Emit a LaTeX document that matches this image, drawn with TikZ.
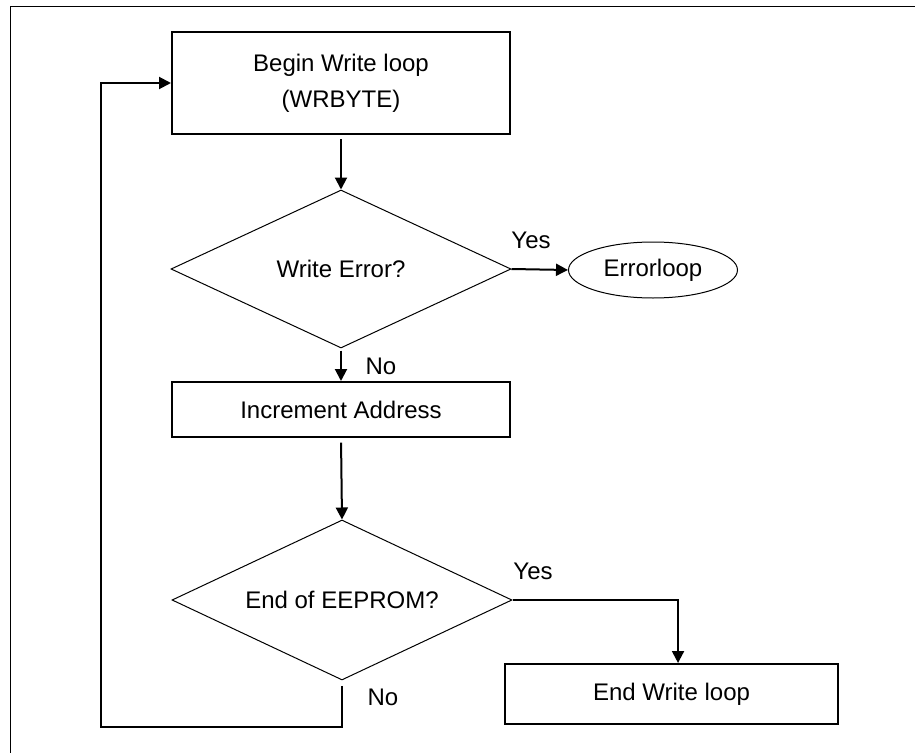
\documentclass[tikz,border=0pt]{standalone}
\usepackage{fontspec}
\setmainfont{Liberation Sans}
\usetikzlibrary{arrows.meta,positioning,shapes.geometric}

\begin{document}
\begin{tikzpicture}[x=0.75pt,y=-0.75pt,font=\fontsize{18}{22}\selectfont,
	box/.style={draw,line width=1.5pt,rectangle,inner sep=0pt},
	test/.style={draw,line width=0.75pt,diamond,aspect=2.15,minimum width=255pt,inner sep=0pt},
	flow/.style={line width=1.5pt,-{Triangle[length=9pt,width=9pt]}},
	lbl/.style={inner sep=0pt}]
	
	\useasboundingbox (0,0) rectangle (915,753);
	\draw[line width=0.75pt] (915,6) -- (10,6) -- (10,753);
	
	% boxes
	\node[box,minimum width=253.5pt,minimum height=76.5pt,align=center] (begin) at (341,83)
	{Begin Write loop\\[5pt](WRBYTE)\hspace{24pt}};
	\node[test,minimum height=118.5pt] (werr) at (341,269) {Write Error?};
	\node[draw,ellipse,line width=0.75pt,minimum width=126.75pt,minimum height=42pt,inner sep=0pt]
	(errloop) at (653,270) {Errorloop};
	\node[box,minimum width=253.5pt,minimum height=41.25pt] (incr) at (341,409.5) {Increment Address};
	\node[test,minimum height=120pt] (eeprom) at (342,600) {End of EEPROM?};
	\node[box,minimum width=250pt,minimum height=45pt] (endw) at (671.5,694) {End Write loop};
	
	% labels
	\node[lbl] (yes1) at (531,240) {Yes};
	\node[lbl] (no1) at (381,366) {No};
	\node[lbl] (yes2) at (533,571) {Yes};
	\node[lbl] (no2) at (383,697) {No};
	
	\coordinate (back) at (101,727);
	
	% connectors
	\draw[flow,shorten <=3pt] (begin.south) -- (werr.north);
	\draw[flow] (werr.east) -- (errloop.west);
	\draw[flow,shorten <=1.5pt] (werr.south) -- (incr.north);
	\draw[flow,shorten <=3.5pt] (incr.south) -- (eeprom.north);
	\draw[flow] (eeprom.east) -| ([xshift=4.9pt]endw.north);
	\draw[flow,shorten <=4pt] (eeprom.south) |- (back) |- (begin.west);
	
\end{tikzpicture}
\end{document}
